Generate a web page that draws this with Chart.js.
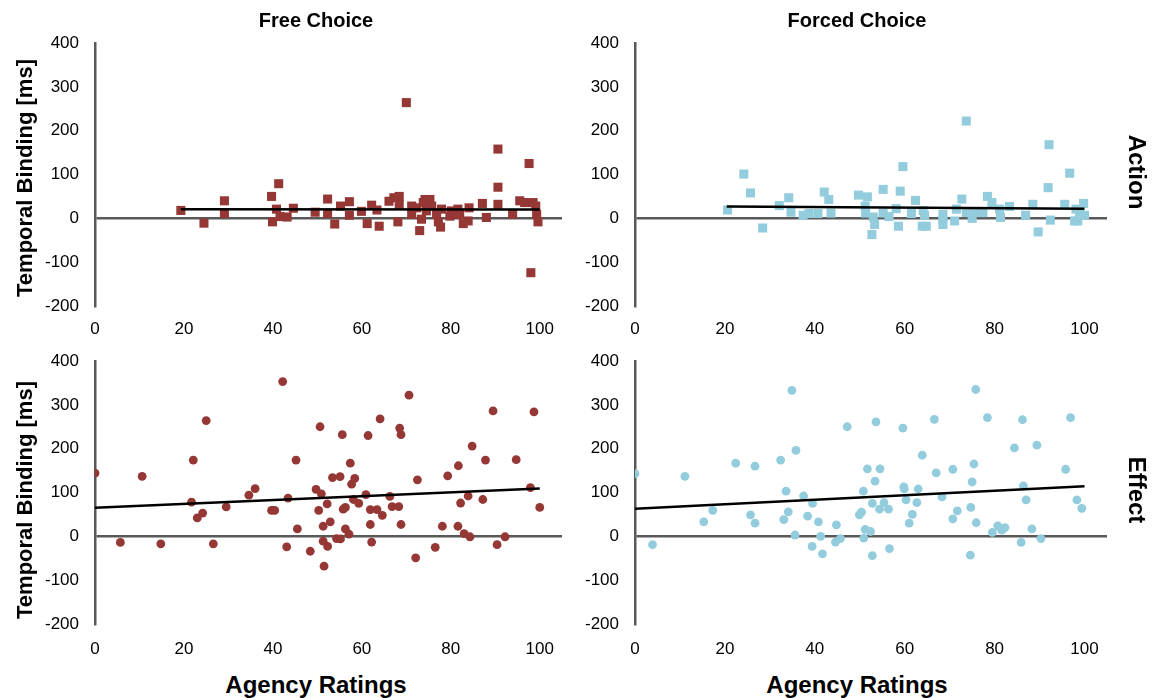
<!DOCTYPE html>
<html>
<head>
<meta charset="utf-8">
<script src="https://cdn.jsdelivr.net/npm/chart.js@4.4.1/dist/chart.umd.min.js"></script>
<style>
  body { margin: 0; background: #fff; }
  #wrap { position: relative; width: 1154px; height: 698px; overflow: hidden; font-family: "Liberation Sans", Arial, sans-serif; }
  #wrap canvas { position: absolute; }
  .lbl { position: absolute; transform: translate(-50%, -50%); white-space: nowrap; font-weight: bold; color: #000; }
  .rotL { transform: translate(-50%, -50%) rotate(-90deg); }
  .rotR { transform: translate(-50%, -50%) rotate(90deg); }
</style>
</head>
<body>
<div id="wrap">
  <canvas id="c1" width="580" height="315" style="left:0px;top:30px"></canvas>
  <canvas id="c2" width="580" height="315" style="left:540px;top:30px"></canvas>
  <canvas id="c3" width="580" height="315" style="left:0px;top:348px"></canvas>
  <canvas id="c4" width="580" height="315" style="left:540px;top:348px"></canvas>

  <div class="lbl" style="left:316px;top:20px;font-size:20px">Free Choice</div>
  <div class="lbl" style="left:857px;top:20px;font-size:20px">Forced Choice</div>
  <div class="lbl rotL" style="left:25px;top:178px;font-size:22px">Temporal Binding [ms]</div>
  <div class="lbl rotL" style="left:25px;top:500px;font-size:22px">Temporal Binding [ms]</div>
  <div class="lbl rotR" style="left:1137px;top:172px;font-size:24px">Action</div>
  <div class="lbl rotR" style="left:1137px;top:490px;font-size:24px">Effect</div>
  <div class="lbl" style="left:316px;top:685px;font-size:24px">Agency Ratings</div>
  <div class="lbl" style="left:857px;top:685px;font-size:24px">Agency Ratings</div>
</div>
<script>
// axis ticks
var xTicks = [0, 20, 40, 60, 80, 100];
var yTicks = [-200, -100, 0, 100, 200, 300, 400];

// Free choice - action (squares)
var freeActX = [19.3, 24.5, 29.1, 29.1, 39.7, 41.3, 39.9, 40.8, 41.6, 43.2, 44.6, 49.5, 52.3, 52.3, 53.9, 55.2, 57.2, 57.2, 59.9, 61.2,
  62.2, 63.4, 63.9, 66.1, 67.2, 68.4, 68.4, 68.1, 70.0, 71.2, 71.2, 72.3, 73.0, 73.4, 74.2, 74.5, 75.3, 75.7, 76.8, 77.2,
  77.7, 77.9, 79.8, 80.1, 81.6, 82.0, 82.8, 83.9, 84.1, 87.1, 88.0, 90.6, 90.6, 90.6, 93.9, 95.5, 96.6, 97.6, 98.0, 98.5,
  99.1, 99.3, 99.6, 81.3, 73.8];
var freeActY = [18, -11, 40, 11, 50, 79, -8, 21, 4, 3, 23, 14, 44, 11, -13, 28, 38, 7, 16, -12,
  30, 19, -18, 39, 47, 50, 32, -8, 264, 28, 9, 24, -28, -2, 43, 17, 43, 28, 9, -8,
  -20, 21, 5, 17, 21, 9, -12, -6, 24, 34, 2, 158, 71, 32, 9, 40, 36, 125, -124, 36,
  28, 9, -8, 9, 36];
var freeActTrendX = [19.3, 100];
var freeActTrendY = [21, 20];

// Forced choice - action (squares)
var forcedActX = [20.6, 24.2, 25.7, 28.4, 32.1, 34.2, 34.7, 37.4, 38.7, 40.7, 42.1, 43.1, 43.6, 49.7, 51.7, 51.2, 51.3, 53.0, 53.3, 52.7,
  55.2, 55.2, 56.5, 58.1, 58.6, 59.0, 59.6, 61.5, 62.4, 64.1, 64.4, 63.9, 64.8, 68.5, 68.5, 68.5, 71.1, 71.5, 72.7, 73.7,
  73.7, 75.0, 75.6, 77.4, 78.4, 79.4, 81.1, 81.3, 83.3, 86.9, 88.5, 89.7, 91.9, 92.1, 92.4, 95.6, 96.7, 97.8, 98.5, 98.9,
  99.8, 100, 98.1];
var forcedActY = [19, 101, 58, -22, 29, 47, 14, 7, 11, 11, 60, 43, 12, 53, 49, 28, 12, 3, -14, -37,
  66, 12, 4, 22, -18, 62, 118, 11, 41, 18, 7, -18, -18, 9, -4, -14, -6, 21, 44, 222,
  13, 0, 13, 13, 50, 36, 21, 2, 27, 7, 32, -31, 70, 168, -4, 32, 103, -6, -6, 14,
  34, 7, 21];
var forcedActTrendX = [20.4, 100];
var forcedActTrendY = [27, 22];

// Free choice - effect (circles)
var freeEffX = [0, 5.7, 10.6, 14.8, 21.7, 22.1, 23.0, 24.2, 25.0, 26.6, 29.5, 34.6, 36.0, 39.7, 40.4, 42.2, 43.1, 43.4, 45.2, 45.5,
  48.4, 49.7, 50.3, 50.6, 50.9, 51.3, 51.3, 51.5, 52.2, 52.3, 52.9, 53.4, 55.1, 54.3, 55.2, 55.6, 55.8, 56.3, 56.3, 57.1,
  57.4, 57.7, 58.4, 58.1, 59.3, 60.9, 61.4, 61.9, 61.9, 62.2, 63.4, 64.1, 64.6, 66.3, 66.8, 68.3, 68.5, 68.8, 68.8, 70.6,
  72.1, 72.5, 76.5, 78.1, 79.3, 81.6, 81.7, 82.2, 83.0, 83.9, 84.3, 84.8, 87.2, 87.8, 89.5, 90.4, 92.2, 94.7, 97.9, 98.7, 100];
var freeEffY = [144, -14, 137, -17, 78, 174, 42, 53, 264, -17, 67, 94, 109, 59, 59, 353, -24, 87, 174, 17,
  -34, 107, 59, 250, 97, 23, -11, -68, 74, -23, 33, 134, 136, -5, -6, 232, 62, 66, 17, 5,
  167, 119, 132, 84, 75, 95, 230, 61, 27, -13, 61, 268, 48, 91, 68, 68, 247, 232, 27, 322,
  -49, 129, -25, 23, 138, 23, 161, 76, 6, 92, -1, 206, 84, 174, 286, -19, -1, 175, 111, 284, 66];
var freeEffTrendX = [0, 100];
var freeEffTrendY = [65, 109];

// Forced choice - effect (circles)
var forcedEffX = [0, 3.9, 11.1, 15.3, 17.3, 22.4, 25.7, 26.7, 26.7, 32.4, 33.1, 33.6, 34.1, 34.9, 35.6, 35.8, 37.5, 38.4, 39.4, 39.5,
  40.8, 41.3, 41.7, 44.6, 44.8, 45.7, 47.2, 49.9, 50.4, 50.8, 50.9, 51.2, 51.7, 52.4, 52.8, 52.8, 53.4, 53.6, 54.4, 54.5,
  55.4, 56.4, 56.6, 59.6, 59.8, 59.9, 60.3, 61.0, 61.7, 62.7, 63.0, 63.9, 66.6, 67.0, 68.3, 70.7, 70.7, 71.7, 74.6, 74.7,
  75.0, 75.4, 75.8, 75.9, 78.4, 79.5, 80.7, 81.6, 82.3, 84.4, 85.9, 86.2, 86.4, 87.0, 88.3, 89.4, 90.3, 95.8, 96.9, 98.3, 99.4];
var forcedEffY = [143, -19, 137, 33, 59, 167, 49, 160, 30, 174, 38, 103, 56, 333, 3, 196, 92, 46, -23, 75,
  33, 0, -40, -13, 26, -5, 250, 49, 55, 103, -4, 16, 154, 11, 75, -44, 126, 261, 62, 154,
  77, 62, -28, 247, 113, 108, 83, 30, 50, 77, 108, 185, 267, 145, 90, 153, 40, 58, -43, 66,
  124, 165, 335, 31, 271, 9, 24, 14, 20, 202, -14, 266, 115, 83, 17, 208, -5, 153, 271, 83, 64];
var forcedEffTrendX = [0, 100];
var forcedEffTrendY = [63, 114];

var red = '#953735';
var blue = '#93cddd';
var axisGray = '#595959';

function toPoints(xs, ys) {
  var pts = [];
  for (var i = 0; i < xs.length; i++) pts.push({x: xs[i], y: ys[i]});
  return pts;
}

function createChart(id, xs, ys, tx, ty, color, shape, rightPad, tickPad) {
  new Chart(document.getElementById(id), {
    type: 'scatter',
    data: {
      datasets: [{
        type: 'line',
        data: toPoints(tx, ty),
        borderColor: '#000',
        borderWidth: 2.5,
        pointRadius: 0,
        fill: false,
        order: 0
      }, {
        data: toPoints(xs, ys),
        backgroundColor: color,
        borderWidth: 0,
        pointStyle: shape,
        pointRadius: shape === 'rect' ? 6.4 : 4.4,
        order: 1
      }]
    },
    options: {
      responsive: false,
      animation: false,
      layout: { padding: { top: 13, right: rightPad, left: 0, bottom: 0 } },
      plugins: { legend: { display: false }, tooltip: { enabled: false } },
      scales: {
        x: {
          type: 'linear',
          min: 0,
          max: 105,
          afterBuildTicks: function (scale) {
            scale.ticks = xTicks.map(function (v) { return {value: v}; });
          },
          afterFit: function (scale) { scale.height = 39; },
          grid: { display: false, drawTicks: false },
          border: { display: false },
          ticks: { padding: tickPad, color: '#000', font: { family: 'Liberation Sans', size: 17 }, maxRotation: 0 }
        },
        y: {
          type: 'linear',
          min: -200,
          max: 400,
          afterBuildTicks: function (scale) {
            scale.ticks = yTicks.map(function (v) { return {value: v}; });
          },
          afterFit: function (scale) {
            scale.width = 95;
            scale.paddingTop = 0;
            scale.paddingBottom = 0;
          },
          grid: {
            drawTicks: false,
            lineWidth: 2.5,
            color: function (ctx) { return ctx.tick && ctx.tick.value === 0 ? axisGray : 'rgba(0,0,0,0)'; }
          },
          border: { display: true, color: axisGray, width: 2.5 },
          ticks: { padding: 16, color: '#000', font: { family: 'Liberation Sans', size: 17 } }
        }
      }
    }
  });
}

createChart('c1', freeActX, freeActY, freeActTrendX, freeActTrendY, red, 'rect', 18, 13);
createChart('c2', forcedActX, forcedActY, forcedActTrendX, forcedActTrendY, blue, 'rect', 13, 13);
createChart('c3', freeEffX, freeEffY, freeEffTrendX, freeEffTrendY, red, 'circle', 18, 15);
createChart('c4', forcedEffX, forcedEffY, forcedEffTrendX, forcedEffTrendY, blue, 'circle', 13, 15);
</script>
</body>
</html>
